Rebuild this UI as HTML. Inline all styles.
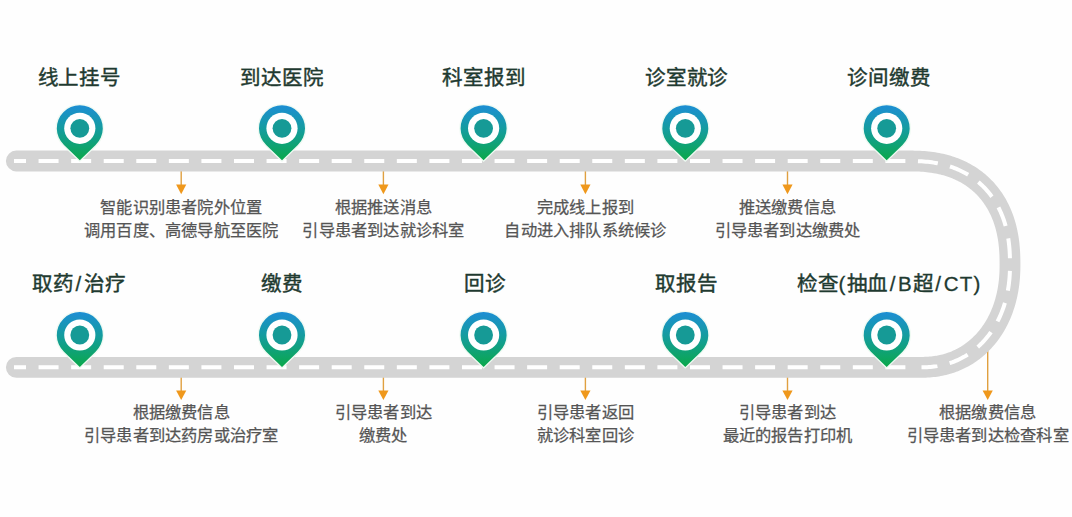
<!DOCTYPE html>
<html lang="zh-CN"><head><meta charset="utf-8"><title>flow</title>
<style>
html,body{margin:0;padding:0;background:#fefefe;}
body{width:1072px;height:517px;position:relative;overflow:hidden;font-family:"Liberation Sans",sans-serif;}
.t{position:absolute;width:320px;text-align:center;font-size:20.5px;line-height:30px;font-weight:400;-webkit-text-stroke:0.42px #1f3a30;letter-spacing:0.8px;color:#1f3a30;white-space:nowrap;}
.l{-webkit-text-stroke:0.3px #1f3a30;letter-spacing:1.2px;}
.s{margin:0 1.5px;}
.d{position:absolute;width:320px;text-align:center;font-size:16.25px;letter-spacing:0.22px;line-height:22.8px;color:#555;-webkit-text-stroke:0.25px #555;white-space:nowrap;}
</style></head><body>
<svg width="1072" height="517" viewBox="0 0 1072 517" style="position:absolute;left:0;top:0"><defs><linearGradient id="g" x1="0" y1="0" x2="0" y2="1"><stop offset="0" stop-color="#1d8ed4"/><stop offset="0.45" stop-color="#149d9c"/><stop offset="1" stop-color="#0aa84a"/></linearGradient><g id="pin"><path d="M0 32 L-15.8 16.7 A23 23 0 1 1 15.8 16.7 Z" fill="none" stroke="#eefaf2" stroke-width="2.6"/><path d="M0 32 L-15.8 16.7 A23 23 0 1 1 15.8 16.7 Z" fill="url(#g)"/><circle cx="0" cy="0" r="15.6" fill="#fff"/><circle cx="0" cy="0" r="9.4" fill="#169a96"/></g></defs><line x1="181.2" y1="169" x2="181.2" y2="186.2" stroke="#e0a040" stroke-width="1.4"/><path d="M176.1 184.6 L186.29999999999998 184.6 L181.2 194.2 Z" fill="#ef981c"/><line x1="383.4" y1="169" x2="383.4" y2="186.2" stroke="#e0a040" stroke-width="1.4"/><path d="M378.29999999999995 184.6 L388.5 184.6 L383.4 194.2 Z" fill="#ef981c"/><line x1="585.4" y1="169" x2="585.4" y2="186.2" stroke="#e0a040" stroke-width="1.4"/><path d="M580.3 184.6 L590.5 184.6 L585.4 194.2 Z" fill="#ef981c"/><line x1="787.5" y1="169" x2="787.5" y2="186.2" stroke="#e0a040" stroke-width="1.4"/><path d="M782.4 184.6 L792.6 184.6 L787.5 194.2 Z" fill="#ef981c"/><line x1="181.2" y1="375.3" x2="181.2" y2="392" stroke="#e0a040" stroke-width="1.4"/><path d="M176.1 390.4 L186.29999999999998 390.4 L181.2 400 Z" fill="#ef981c"/><line x1="383.4" y1="375.3" x2="383.4" y2="392" stroke="#e0a040" stroke-width="1.4"/><path d="M378.29999999999995 390.4 L388.5 390.4 L383.4 400 Z" fill="#ef981c"/><line x1="585.4" y1="375.3" x2="585.4" y2="392" stroke="#e0a040" stroke-width="1.4"/><path d="M580.3 390.4 L590.5 390.4 L585.4 400 Z" fill="#ef981c"/><line x1="787.5" y1="375.3" x2="787.5" y2="392" stroke="#e0a040" stroke-width="1.4"/><path d="M782.4 390.4 L792.6 390.4 L787.5 400 Z" fill="#ef981c"/><line x1="987.7" y1="330" x2="987.7" y2="392" stroke="#e0a040" stroke-width="1.4"/><path d="M982.6 390.4 L992.8000000000001 390.4 L987.7 400 Z" fill="#ef981c"/><path d="M16.3 161 H909 L912.22 161.01 L914.81 161.05 L917.20 161.12 L919.47 161.22 L921.66 161.34 L923.78 161.48 L925.84 161.66 L927.86 161.86 L929.83 162.09 L931.76 162.34 L933.66 162.63 L935.53 162.93 L937.37 163.27 L939.18 163.63 L940.97 164.02 L942.73 164.43 L944.46 164.87 L946.18 165.34 L947.86 165.83 L949.53 166.35 L951.17 166.90 L952.79 167.47 L954.39 168.07 L955.97 168.69 L957.53 169.34 L959.06 170.01 L960.58 170.71 L962.07 171.43 L963.54 172.18 L964.99 172.96 L966.42 173.76 L967.83 174.59 L969.22 175.43 L970.59 176.31 L971.93 177.21 L973.26 178.13 L974.56 179.08 L975.84 180.05 L977.10 181.05 L978.34 182.06 L979.56 183.11 L980.75 184.17 L981.92 185.26 L983.07 186.38 L984.20 187.51 L985.31 188.67 L986.39 189.86 L987.45 191.06 L988.49 192.29 L989.50 193.54 L990.50 194.81 L991.46 196.11 L992.41 197.42 L993.33 198.76 L994.23 200.12 L995.10 201.51 L995.95 202.91 L996.78 204.34 L997.58 205.79 L998.36 207.26 L999.12 208.75 L999.85 210.26 L1000.55 211.79 L1001.23 213.35 L1001.89 214.93 L1002.52 216.53 L1003.13 218.15 L1003.71 219.79 L1004.26 221.46 L1004.79 223.15 L1005.30 224.86 L1005.78 226.59 L1006.23 228.35 L1006.66 230.14 L1007.06 231.94 L1007.44 233.78 L1007.79 235.64 L1008.12 237.53 L1008.42 239.45 L1008.69 241.41 L1008.94 243.39 L1009.16 245.42 L1009.36 247.49 L1009.53 249.61 L1009.67 251.79 L1009.79 254.04 L1009.88 256.37 L1009.95 258.83 L1009.99 261.49 L1010.00 264.80 L1009.99 267.17 L1009.95 269.32 L1009.89 271.39 L1009.80 273.41 L1009.69 275.39 L1009.55 277.34 L1009.39 279.27 L1009.20 281.17 L1008.99 283.05 L1008.75 284.91 L1008.49 286.75 L1008.20 288.58 L1007.89 290.39 L1007.55 292.18 L1007.19 293.95 L1006.81 295.71 L1006.40 297.45 L1005.96 299.18 L1005.51 300.89 L1005.02 302.58 L1004.52 304.26 L1003.99 305.92 L1003.44 307.56 L1002.86 309.19 L1002.26 310.80 L1001.64 312.39 L1000.99 313.97 L1000.32 315.53 L999.63 317.07 L998.92 318.59 L998.18 320.09 L997.42 321.58 L996.64 323.04 L995.84 324.49 L995.01 325.92 L994.16 327.32 L993.30 328.71 L992.41 330.08 L991.50 331.42 L990.57 332.75 L989.62 334.05 L988.64 335.34 L987.65 336.60 L986.64 337.84 L985.61 339.05 L984.56 340.25 L983.49 341.42 L982.40 342.57 L981.29 343.69 L980.17 344.79 L979.02 345.87 L977.86 346.92 L976.68 347.95 L975.48 348.96 L974.27 349.94 L973.04 350.90 L971.79 351.83 L970.52 352.73 L969.24 353.61 L967.94 354.46 L966.63 355.29 L965.30 356.09 L963.95 356.87 L962.59 357.61 L961.22 358.34 L959.83 359.03 L958.42 359.70 L957.00 360.34 L955.57 360.95 L954.12 361.54 L952.66 362.10 L951.18 362.63 L949.69 363.13 L948.19 363.60 L946.67 364.05 L945.14 364.46 L943.59 364.85 L942.03 365.21 L940.46 365.55 L938.86 365.85 L937.26 366.13 L935.63 366.37 L933.99 366.59 L932.33 366.78 L930.64 366.94 L928.93 367.07 L927.19 367.17 L925.40 367.24 L923.55 367.29 L921.50 367.30 H16.3" fill="none" stroke="#d4d4d4" stroke-width="20.8" stroke-linecap="round"/><path d="M14 161 H909 L912.22 161.01 L914.81 161.05 L917.20 161.12 L919.47 161.22 L921.66 161.34 L923.78 161.48 L925.84 161.66 L927.86 161.86 L929.83 162.09 L931.76 162.34 L933.66 162.63 L935.53 162.93 L937.37 163.27 L939.18 163.63 L940.97 164.02 L942.73 164.43 L944.46 164.87 L946.18 165.34 L947.86 165.83 L949.53 166.35 L951.17 166.90 L952.79 167.47 L954.39 168.07 L955.97 168.69 L957.53 169.34 L959.06 170.01 L960.58 170.71 L962.07 171.43 L963.54 172.18 L964.99 172.96 L966.42 173.76 L967.83 174.59 L969.22 175.43 L970.59 176.31 L971.93 177.21 L973.26 178.13 L974.56 179.08 L975.84 180.05 L977.10 181.05 L978.34 182.06 L979.56 183.11 L980.75 184.17 L981.92 185.26 L983.07 186.38 L984.20 187.51 L985.31 188.67 L986.39 189.86 L987.45 191.06 L988.49 192.29 L989.50 193.54 L990.50 194.81 L991.46 196.11 L992.41 197.42 L993.33 198.76 L994.23 200.12 L995.10 201.51 L995.95 202.91 L996.78 204.34 L997.58 205.79 L998.36 207.26 L999.12 208.75 L999.85 210.26 L1000.55 211.79 L1001.23 213.35 L1001.89 214.93 L1002.52 216.53 L1003.13 218.15 L1003.71 219.79 L1004.26 221.46 L1004.79 223.15 L1005.30 224.86 L1005.78 226.59 L1006.23 228.35 L1006.66 230.14 L1007.06 231.94 L1007.44 233.78 L1007.79 235.64 L1008.12 237.53 L1008.42 239.45 L1008.69 241.41 L1008.94 243.39 L1009.16 245.42 L1009.36 247.49 L1009.53 249.61 L1009.67 251.79 L1009.79 254.04 L1009.88 256.37 L1009.95 258.83 L1009.99 261.49 L1010.00 264.80 L1009.99 267.17 L1009.95 269.32 L1009.89 271.39 L1009.80 273.41 L1009.69 275.39 L1009.55 277.34 L1009.39 279.27 L1009.20 281.17 L1008.99 283.05 L1008.75 284.91 L1008.49 286.75 L1008.20 288.58 L1007.89 290.39 L1007.55 292.18 L1007.19 293.95 L1006.81 295.71 L1006.40 297.45 L1005.96 299.18 L1005.51 300.89 L1005.02 302.58 L1004.52 304.26 L1003.99 305.92 L1003.44 307.56 L1002.86 309.19 L1002.26 310.80 L1001.64 312.39 L1000.99 313.97 L1000.32 315.53 L999.63 317.07 L998.92 318.59 L998.18 320.09 L997.42 321.58 L996.64 323.04 L995.84 324.49 L995.01 325.92 L994.16 327.32 L993.30 328.71 L992.41 330.08 L991.50 331.42 L990.57 332.75 L989.62 334.05 L988.64 335.34 L987.65 336.60 L986.64 337.84 L985.61 339.05 L984.56 340.25 L983.49 341.42 L982.40 342.57 L981.29 343.69 L980.17 344.79 L979.02 345.87 L977.86 346.92 L976.68 347.95 L975.48 348.96 L974.27 349.94 L973.04 350.90 L971.79 351.83 L970.52 352.73 L969.24 353.61 L967.94 354.46 L966.63 355.29 L965.30 356.09 L963.95 356.87 L962.59 357.61 L961.22 358.34 L959.83 359.03 L958.42 359.70 L957.00 360.34 L955.57 360.95 L954.12 361.54 L952.66 362.10 L951.18 362.63 L949.69 363.13 L948.19 363.60 L946.67 364.05 L945.14 364.46 L943.59 364.85 L942.03 365.21 L940.46 365.55 L938.86 365.85 L937.26 366.13 L935.63 366.37 L933.99 366.59 L932.33 366.78 L930.64 366.94 L928.93 367.07 L927.19 367.17 L925.40 367.24 L923.55 367.29 L921.50 367.30" fill="none" stroke="#fff" stroke-width="4" stroke-dasharray="20 12.57" stroke-dashoffset="8"/><path d="M14 367.3 H912" fill="none" stroke="#fff" stroke-width="4" stroke-dasharray="20 12.57" stroke-dashoffset="8"/><use href="#pin" x="79.8" y="128.3"/><use href="#pin" x="79.8" y="335.0"/><use href="#pin" x="282" y="128.3"/><use href="#pin" x="282" y="335.0"/><use href="#pin" x="483.6" y="128.3"/><use href="#pin" x="483.6" y="335.0"/><use href="#pin" x="685.3" y="128.3"/><use href="#pin" x="685.3" y="335.0"/><use href="#pin" x="886.7" y="128.3"/><use href="#pin" x="886.7" y="335.0"/></svg>
<div class="t" style="left:-80.9px;top:63px">线上挂号</div><div class="t" style="left:122px;top:63px">到达医院</div><div class="t" style="left:324px;top:63px">科室报到</div><div class="t" style="left:526.6px;top:63px">诊室就诊</div><div class="t" style="left:728.75px;top:63px">诊间缴费</div><div class="t" style="left:-81.15px;top:269px">取药<span class="l s">/</span>治疗</div><div class="t" style="left:121.60000000000002px;top:269px">缴费</div><div class="t" style="left:324.65px;top:269px">回诊</div><div class="t" style="left:526.4px;top:269px">取报告</div><div class="t" style="left:729.2px;top:269px">检查<span class="l">(</span>抽血<span class="l s">/</span><span class="l">B</span>超<span class="l s">/</span><span class="l">CT)</span></div><div class="d" style="left:21.19999999999999px;top:196.3px">智能识别患者院外位置<br>调用百度、高德导航至医院</div><div class="d" style="left:223.39999999999998px;top:196.3px">根据推送消息<br>引导患者到达就诊科室</div><div class="d" style="left:425.4px;top:196.3px">完成线上报到<br>自动进入排队系统候诊</div><div class="d" style="left:627.5px;top:196.3px">推送缴费信息<br>引导患者到达缴费处</div><div class="d" style="left:21.19999999999999px;top:401.3px">根据缴费信息<br>引导患者到达药房或治疗室</div><div class="d" style="left:223.39999999999998px;top:401.3px">引导患者到达<br>缴费处</div><div class="d" style="left:425.4px;top:401.3px">引导患者返回<br>就诊科室回诊</div><div class="d" style="left:627.5px;top:401.3px">引导患者到达<br>最近的报告打印机</div><div class="d" style="left:827.7px;top:401.3px">根据缴费信息<br>引导患者到达检查科室</div>
</body></html>
